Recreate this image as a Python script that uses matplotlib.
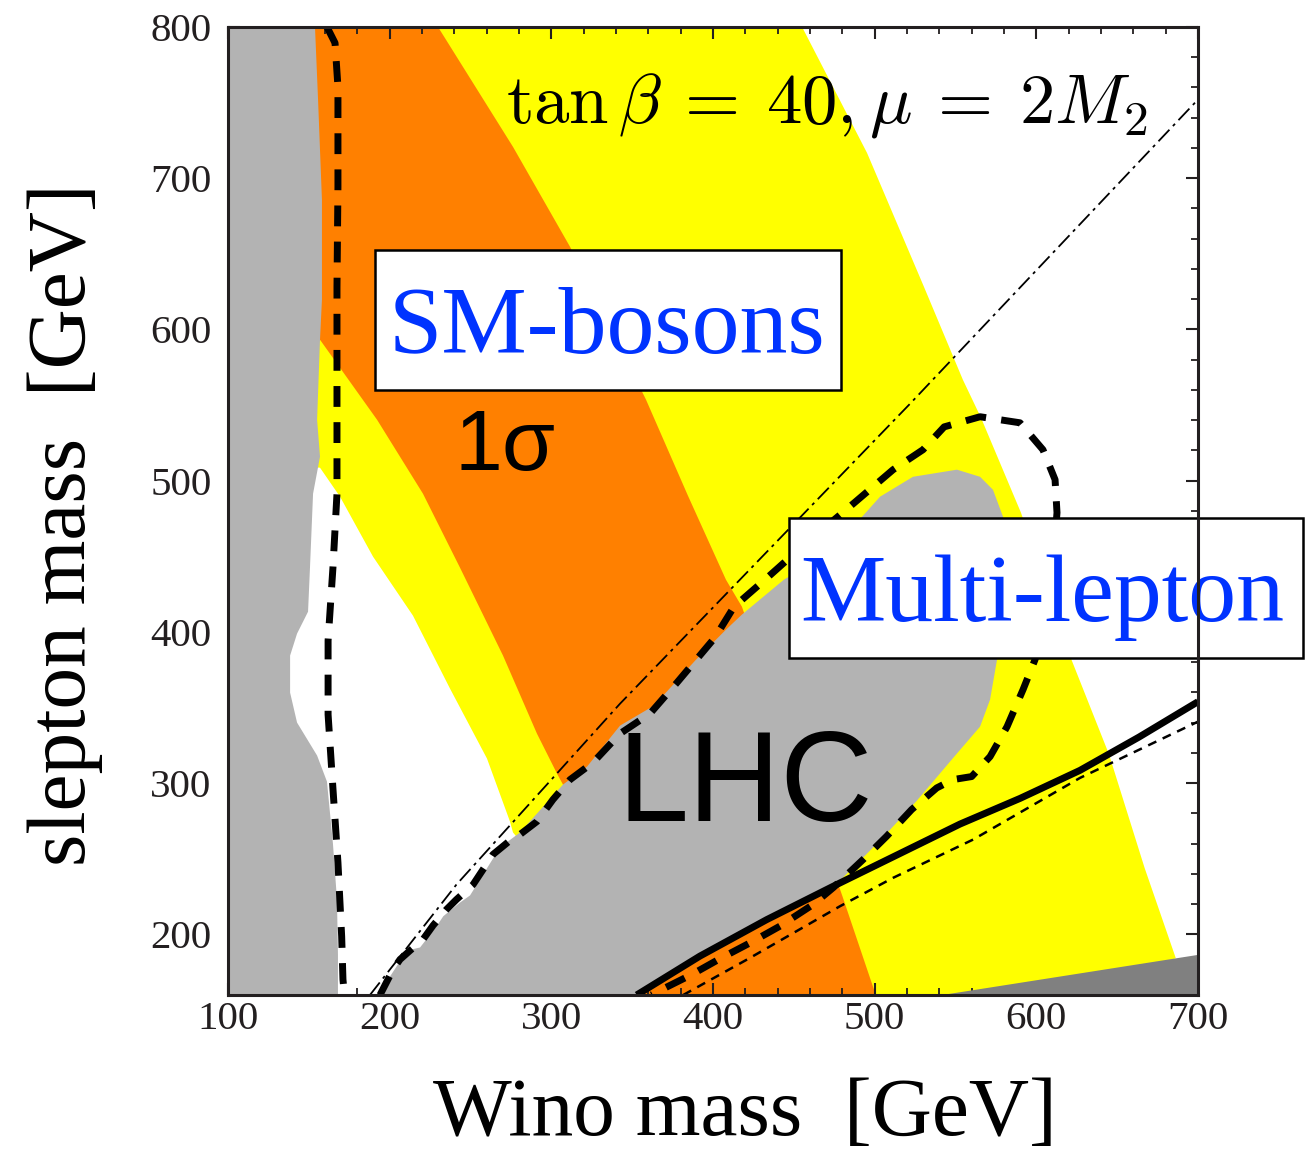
import matplotlib
matplotlib.use("Agg")
import matplotlib.pyplot as plt
from matplotlib.patches import Polygon, Rectangle

plt.rcParams['mathtext.fontset'] = 'cm'

# ---- region boundaries (Wino mass, slepton mass) in GeV ----
# left grey (excluded) region, right edge from top to bottom
lep_x = [153.8, 155.7, 158.1, 158.1, 156.9, 155.1, 156.9, 152.6, 150.7, 149.5, 142.7,
         138.4, 138.4, 142.7, 155.1, 161.2, 164.9, 167.4, 168.0, 168.0]
lep_y = [800, 751.8, 685.7, 619.6, 593.2, 540.3, 515.9, 491.4, 442.5, 413.4, 398.9,
         384.4, 359.9, 340.1, 318.3, 301.1, 260.1, 223.1, 186.8, 160]

# 2 sigma (yellow) band
yel_left_x = [140, 140, 156.9, 169.3, 189.7, 214.4, 237.3, 260.2, 274.4, 276.3, 360]
yel_left_y = [800, 510, 508.6, 489.4, 449.8, 410.8, 362.6, 316.3, 274.7, 267.4, 160]
yel_right_x = [455.1, 495.3, 530.5, 554.6, 565.8, 590.5, 622.0, 645.0, 667.0, 686.3,
               620, 560]
yel_right_y = [800, 716.7, 628.2, 566.7, 541.6, 478.9, 381.0, 319.0, 244.0, 184.3,
               160, 160]

# 1 sigma (orange) band
org_left_x = [150, 150, 156.9, 192.2, 220.6, 243.5, 270.1, 291.1, 303.5, 307.2, 355]
org_left_y = [800, 593.2, 593.2, 540.3, 491.4, 442.5, 384.4, 332.8, 306.4, 299.1, 160]
org_right_x = [229.9, 276.3, 311.6, 358.6, 384.5, 408.0, 417.9, 480.1, 500.7]
org_right_y = [800, 720.7, 654.6, 553.5, 490.1, 434.6, 416.7, 225.2, 160]

# LHC excluded (grey) region
lhc_x = [195.9, 200.2, 210.7, 218.8, 229.3, 233.2, 243.5, 249.7, 268.2, 280.6, 307.2,
         322.1, 342.5, 363.5, 389.5, 408.0, 417.9, 443.9, 472.4, 503.3, 523.7, 550.9,
         565.2, 573.2, 579.4, 579.5, 575.7, 571.4, 565.2, 548.7, 525.9, 503.0, 480.1,
         461.8, 450.3, 438.8, 433.2, 391.9, 352.8]
lhc_y = [160, 172.2, 189.4, 191.4, 205.9, 212.1, 221.1, 225.8, 257.5, 267.4, 299.1,
         311.0, 338.1, 351.3, 381.7, 401.5, 411.5, 434.6, 452.4, 489.4, 502.6, 507.3,
         502.6, 494.0, 476.2, 430.0, 381.7, 355.3, 337.4, 316.9, 288.2, 261.7, 237.3,
         224.1, 219.7, 213.0, 209.8, 185.7, 160]

# dark grey corner
dark_x = [542.0, 700, 700]
dark_y = [160, 186.5, 160]

# lines
solid_x = [352.8, 391.9, 433.2, 474.4, 552.8, 590.0, 627.0, 663.5, 700]
solid_y = [160, 185.7, 209.8, 231.9, 273.0, 290.0, 308.5, 330.5, 353.9]
thin_x = [381.6, 423.0, 478.6, 511.5, 561.0, 627.0, 700]
thin_y = [160, 184.6, 218.7, 237.5, 262.8, 303.5, 340.7]
dashdot_x = [187.8, 241.3, 342.5, 521.9, 700]
dashdot_y = [160, 233.0, 352.6, 550.9, 752]
left_dash_x = [161.2, 166.2, 168.0, 168.0, 167.4, 167.4, 167.4, 164.9, 161.9, 161.9,
               164.9, 168.0, 170.3, 171.1, 172.0]
left_dash_y = [800, 789.4, 760.4, 694.3, 628.2, 562.1, 491.4, 442.5, 394.3, 345.4,
               296.5, 247.6, 198.7, 170.3, 160]
ml_dash_x = [194.0, 202.1, 206.4, 212.6, 220.6, 226.8, 235.1, 241.3, 251.6, 263.9,
             274.4, 280.6, 291.1, 301.0, 311.6, 325.8, 342.5, 361.0, 377.7, 401.2,
             413.0, 432.2, 455.7, 481.7, 511.4, 529.9, 543.0, 565.2, 589.9, 604.1,
             611.6, 612.8, 608.5, 599.2, 591.8, 581.9, 571.4, 560.0, 548.5, 538.4,
             522.9, 507.4, 492.9, 474.4, 461.9, 441.4, 423.0, 404.3, 386.8, 368.3,
             362.0]
ml_dash_y = [160, 176.9, 183.5, 189.4, 196.7, 205.9, 216.5, 223.1, 233.0, 252.9,
             262.1, 266.1, 274.7, 289.2, 302.4, 313.7, 332.8, 346.0, 366.5, 396.3,
             416.7, 434.6, 457.0, 480.2, 507.3, 520.5, 535.6, 542.3, 538.3, 520.5,
             500.7, 478.9, 421.4, 381.7, 361.9, 337.4, 317.6, 304.4, 302.4, 296.9,
             282.6, 264.9, 249.6, 231.0, 219.8, 205.5, 194.5, 184.0, 173.5, 163.6,
             160]

xticks = [100, 200, 300, 400, 500, 600, 700]
yticks = [200, 300, 400, 500, 600, 700, 800]

fig = plt.figure(figsize=(13.15, 11.52), dpi=100)
ax = fig.add_axes([0.1734, 0.1363, 0.7376, 0.8403])

yellow = list(zip(yel_left_x, yel_left_y)) + list(zip(yel_right_x, yel_right_y))[::-1]
ax.add_patch(Polygon(yellow, closed=True, fc='#ffff00', ec='none', zorder=1))
orange = list(zip(org_left_x, org_left_y)) + list(zip(org_right_x, org_right_y))[::-1]
ax.add_patch(Polygon(orange, closed=True, fc='#ff8000', ec='none', zorder=1.5))
lep = [(100, 160), (100, 800)] + list(zip(lep_x, lep_y))
ax.add_patch(Polygon(lep, closed=True, fc='#b3b3b3', ec='none', zorder=2))
ax.add_patch(Polygon(list(zip(lhc_x, lhc_y)), closed=True, fc='#b3b3b3', ec='none', zorder=2))
ax.add_patch(Polygon(list(zip(dark_x, dark_y)), closed=True, fc='#808080', ec='none', zorder=2))

ax.plot(dashdot_x, dashdot_y, color='black', lw=1.3, dashes=(8.8, 2.8, 1.7, 2.8), zorder=4)
ax.plot(thin_x, thin_y, color='black', lw=1.8, dashes=(3.6, 2.8), zorder=4)
ax.plot(left_dash_x, left_dash_y, color='black', lw=5, dashes=(3.0, 2.2), zorder=5)
ax.plot(ml_dash_x, ml_dash_y, color='black', lw=5, dashes=(3.0, 2.2), zorder=5)
ax.plot(solid_x, solid_y, color='black', lw=5, zorder=6, solid_capstyle='butt')

# labels inside the plot
ax.text(272.0, 736.6, r'$\tan\beta\:=\:40,\mu\:=\:2M_2$', fontsize=51, ha='left',
        va='baseline', zorder=7)
ax.text(271.4, 507.3, '1σ', fontsize=62, family='Liberation Sans', ha='center',
        va='baseline', zorder=7)
ax.text(419.8, 274.7, 'LHC', fontsize=92, family='Liberation Sans', ha='center',
        va='baseline', zorder=7)

ax.add_patch(Rectangle((190.9, 560.1), 288.3, 92.5, fc='white', ec='black', lw=1.8, zorder=8))
ax.text(334.5, 584.6, 'SM-bosons', fontsize=69, family='Liberation Serif', color='#0033ff',
        ha='center', va='baseline', zorder=9)
ax.add_patch(Rectangle((447.0, 383.0), 318.0, 92.6, fc='white', ec='black', lw=1.8,
                       zorder=8, clip_on=False))
ax.text(604.0, 407.5, 'Multi-lepton', fontsize=69, family='Liberation Serif', color='#0033ff',
        ha='center', va='baseline', zorder=9, clip_on=False)

ax.set_xlim(100, 700)
ax.set_ylim(160, 800)
ax.set_xticks(xticks)
ax.set_yticks(yticks)
ax.set_xticks(range(100, 701, 20), minor=True)
ax.set_yticks(range(160, 801, 20), minor=True)
ax.tick_params(which='both', direction='in', top=True, right=True, color='#231f20')
ax.tick_params(which='major', length=8.5, width=1.5, labelsize=29.5)
ax.tick_params(which='minor', length=5, width=1.3)
ax.tick_params(axis='x', pad=4)
ax.tick_params(axis='y', pad=12)
for lab in ax.get_xticklabels() + ax.get_yticklabels():
    lab.set_family('Liberation Serif')
    lab.set_color('#231f20')
for sp in ax.spines.values():
    sp.set_linewidth(2.2)
    sp.set_color('#231f20')
    sp.set_zorder(10)

fig.text(0.5665, 0.0148, 'Wino mass  [GeV]', fontsize=60, family='Liberation Serif',
         ha='center', va='baseline')
fig.text(0.0646, 0.5443, 'slepton mass  [GeV]', fontsize=60, family='Liberation Serif',
         ha='center', va='baseline', rotation=90, rotation_mode='anchor')

fig.savefig('out.png', dpi=100)
